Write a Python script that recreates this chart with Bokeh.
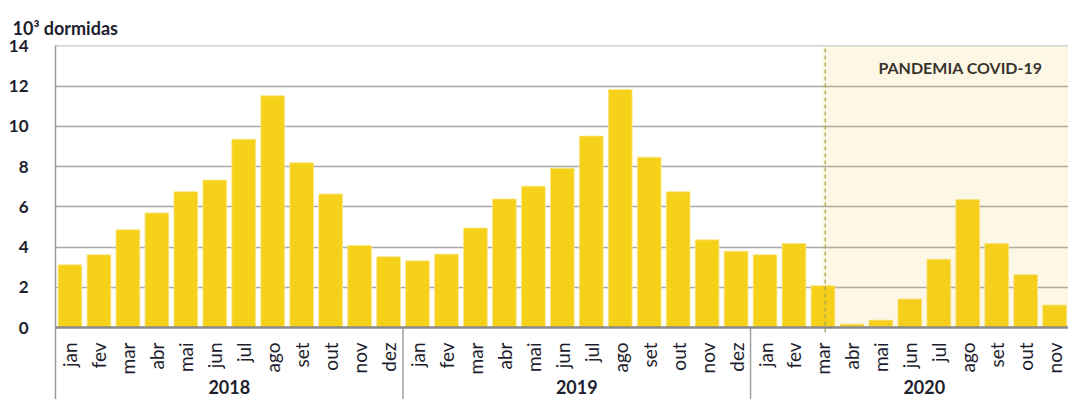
import math
from bokeh.plotting import figure
from bokeh.models import Range1d, FixedTicker, Span, BoxAnnotation, Title, ColumnDataSource
from bokeh.core.properties import value
from bokeh.embed import file_html
from bokeh.resources import INLINE

# ---------------- data ----------------
years = ["2018", "2019", "2020"]
months = ["jan", "fev", "mar", "abr", "mai", "jun", "jul", "ago", "set", "out", "nov", "dez"]
v2018 = [3.12, 3.62, 4.86, 5.70, 6.75, 7.33, 9.36, 11.52, 8.19, 6.64, 4.08, 3.52]
v2019 = [3.32, 3.65, 4.95, 6.39, 7.03, 7.92, 9.52, 11.83, 8.47, 6.75, 4.36, 3.80]
v2020 = [3.62, 4.18, 2.08, 0.17, 0.37, 1.42, 3.40, 6.36, 4.18, 2.63, 1.12, 1.12]
y_ticks = [0, 2, 4, 6, 8, 10, 12, 14]
title_text = "10\u00b3 dormidas"
pandemic_text = "PANDEMIA COVID-19"
pandemic_start = ("2020", "mar")

# ---------------- styling ----------------
FONT = "Lato"
TXT = "#1e1e2e"
BAR = "#F6D11A"
GRID = "#a8a8a8"

W, H = 1068, 399
LEFT, TOP, ZERO = 55, 45, 327
n = len(years) * len(months)
xs = [i + 0.5 for i in range(n)]
vals = v2018 + v2019 + v2020
mlabels = months * len(years)

px_per_unit = (ZERO - TOP) / 14.0
ymin = -(H - ZERO) / px_per_unit
slot = 28.96
xmax = (W - LEFT) / slot

p = figure(width=W, height=H, output_backend="svg", toolbar_location=None,
           x_range=Range1d(0, xmax), y_range=Range1d(ymin, 14.02),
           x_axis_location=None, min_border_left=LEFT, min_border_top=TOP,
           min_border_right=0, min_border_bottom=0)
p.outline_line_color = None
p.xgrid.visible = False

p.title = Title(text=title_text, align="left", offset=-(LEFT - 12), standoff=13,
                text_font=FONT, text_font_style="bold", text_font_size="18px",
                text_color=TXT)

ax = p.yaxis[0]
ax.ticker = FixedTicker(ticks=y_ticks)
ax.major_tick_line_color = None
ax.minor_tick_line_color = None
ax.axis_line_color = "#9a9a9a"
ax.axis_line_width = 1.5
ax.major_label_text_font = FONT
ax.major_label_text_font_style = "bold"
ax.major_label_text_font_size = "17px"
ax.major_label_text_color = TXT
ax.major_label_standoff = 21

p.ygrid.ticker = FixedTicker(ticks=y_ticks[1:])
p.ygrid.grid_line_color = GRID
p.ygrid.grid_line_width = 1.6

# pandemic shading
start_idx = years.index(pandemic_start[0]) * len(months) + months.index(pandemic_start[1]) + 0.5
p.add_layout(BoxAnnotation(left=start_idx, right=n, bottom=0, top=14,
                           fill_color="#EFC72F", fill_alpha=0.12, line_color=None))

# bars
src = ColumnDataSource(dict(x=xs, top=vals))
p.vbar(x="x", top="top", width=0.82, bottom=0, source=src,
       fill_color=BAR, line_color="#fbe68a", line_width=0.8)

# dashed pandemic line
p.segment(x0=[start_idx + 0.08], y0=[-0.25], x1=[start_idx + 0.08], y1=[14],
          line_color="#9CA552", line_width=1.3, line_dash="4 3")

# zero axis line
p.add_layout(Span(location=0, dimension="width", line_color="#8a8a8a", line_width=2.5))

# group separators
seps = [len(months) * (k + 1) for k in range(len(years))]
p.segment(x0=seps, y0=[0] * len(seps), x1=seps, y1=[ymin] * len(seps),
          line_color="#a0a0a0", line_width=1.5)

# month labels
p.text(x=xs, y=[-0.74] * n, text=mlabels, angle=math.pi / 2,
       text_align="right", text_baseline="middle",
       text_font=value(FONT), text_font_size="19px", text_color=TXT)

# year labels
yx = [len(months) * k + len(months) / 2 for k in range(len(years))]
p.text(x=yx, y=[ymin + 0.62] * len(years), text=years,
       text_align="center", text_baseline="middle",
       text_font=value(FONT), text_font_style="bold", text_font_size="18px", text_color=TXT)

# pandemic label
p.text(x=[(start_idx + n) / 2], y=[12.95], text=[pandemic_text],
       text_align="center", text_baseline="middle",
       text_font=value(FONT), text_font_style="bold", text_font_size="16px", text_color=TXT)

open("out.html", "w").write(file_html(p, INLINE))
